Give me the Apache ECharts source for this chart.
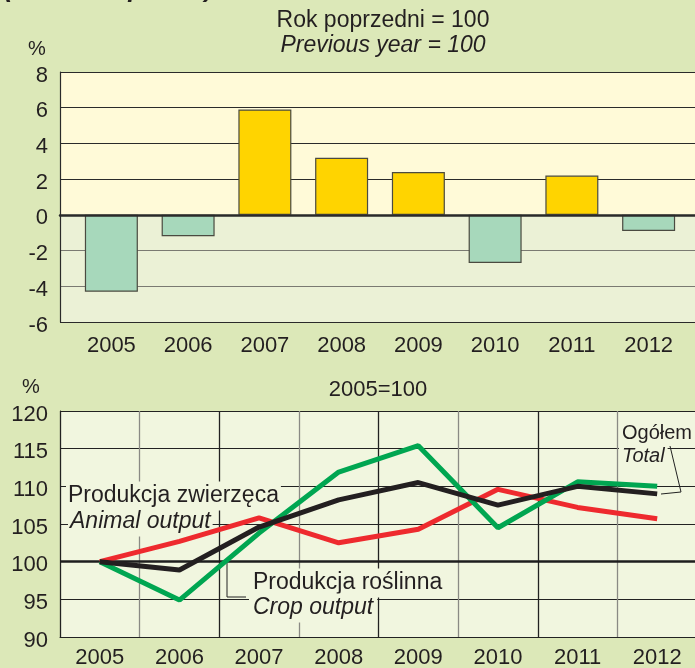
<!DOCTYPE html>
<html><head><meta charset="utf-8">
<script src="https://cdn.jsdelivr.net/npm/echarts@6/dist/echarts.min.js"></script>
<style>html,body{margin:0;padding:0;background:#dce8b8;}#c{width:695px;height:668px;}</style>
</head><body><div id="c"></div>
<script>
// ---- data ----
const years = ['2005','2006','2007','2008','2009','2010','2011','2012'];
const yoyChange = [-4.3, -1.2, 5.9, 3.2, 2.4, -2.7, 2.2, -0.9];      // previous year = 100, change in %
const totalIndex = [100, 98.9, 104.6, 108.2, 110.5, 107.5, 110.0, 109.0]; // Ogółem / Total
const animalIndex = [100, 102.7, 105.8, 102.5, 104.3, 109.6, 107.2, 105.7]; // Produkcja zwierzęca
const cropIndex = [100, 94.9, 103.8, 111.9, 115.4, 104.5, 110.6, 110.0];  // Produkcja roślinna
const baseValue = 100;

const FONT = '"Liberation Sans", Arial, Helvetica, sans-serif';
const TXT = '#231f20';
const PLOT_BG = '#f1f6df';

const chart = echarts.init(document.getElementById('c'), null, {renderer: 'canvas'});

function txt(x, y, text, opts) {
  return {
    type: 'text', x: x, y: y, z: 1,
    style: Object.assign({text: text, fill: TXT, fontFamily: FONT, fontSize: 22,
      align: 'left', verticalAlign: 'middle'}, opts || {})
  };
}

const yLabel = {fontSize: 22, color: TXT, fontFamily: FONT, margin: 12,
  verticalAlign: 'top', lineHeight: 7};

const option = {
  backgroundColor: '#dce8b8',
  animation: false,
  grid: [
    {left: 60, top: 72, width: 640, height: 250, outerBoundsMode: 'none', containLabel: false},
    {left: 73, top: 72, width: 614, height: 250, outerBoundsMode: 'none', containLabel: false},
    {left: 60, top: 411, width: 637, height: 226, show: true, backgroundColor: PLOT_BG, borderWidth: 0,
      outerBoundsMode: 'none', containLabel: false}
  ],
  xAxis: [
    {gridIndex: 0, type: 'value', min: 0, max: 1, z: 3,
      axisLine: {show: true, onZero: true, lineStyle: {color: '#2a2a2a', width: 2.5}},
      axisLabel: {show: false}, axisTick: {show: false}, splitLine: {show: false}},
    {gridIndex: 1, type: 'category', data: years, position: 'bottom',
      axisLine: {show: false, onZero: false}, axisTick: {show: false},
      axisLabel: {fontSize: 22, color: TXT, fontFamily: FONT, margin: 13},
      splitLine: {show: false}},
    {gridIndex: 2, type: 'category', data: years, boundaryGap: true,
      axisLine: {show: true, onZero: false, lineStyle: {color: '#222', width: 1}},
      axisTick: {show: false},
      axisLabel: {fontSize: 22, color: TXT, fontFamily: FONT, margin: 10},
      splitLine: {show: true, interval: 0, lineStyle: {color: ['#222', '#8a8a84'], width: 1.3}}}
  ],
  yAxis: [
    {gridIndex: 0, type: 'value', min: -6, max: 8, interval: 2, z: 1,
      axisLine: {show: true, lineStyle: {color: '#2a2a2a', width: 1.2}}, axisTick: {show: false},
      axisLabel: yLabel,
      splitLine: {show: true, lineStyle: {width: 1.2, color: ['#2a2a2a', '#7a7a72', '#7a7a72', '#2a2a2a', '#2a2a2a', '#2a2a2a', '#2a2a2a', '#2a2a2a']}}},
    {gridIndex: 1, type: 'value', min: -6, max: 8, interval: 2, show: false},
    {gridIndex: 2, type: 'value', min: 90, max: 120, interval: 5,
      axisLine: {show: true, lineStyle: {color: '#222', width: 1}}, axisTick: {show: false},
      axisLabel: yLabel,
      splitLine: {show: true, lineStyle: {color: '#222', width: 1}}}
  ],
  series: [
    {type: 'line', xAxisIndex: 0, yAxisIndex: 0, data: [], silent: true,
      markArea: {silent: true, z: 0,
        data: [
          [{yAxis: 0, itemStyle: {color: '#fffad8'}}, {yAxis: 8}],
          [{yAxis: -6, itemStyle: {color: '#ebf1d6'}}, {yAxis: 0}]
        ]}},
    {type: 'bar', xAxisIndex: 1, yAxisIndex: 1, z: 2, barWidth: 53,
      data: yoyChange.map(v => ({value: v, itemStyle: {color: v >= 0 ? '#ffd400' : '#a7d8bb'}})),
      itemStyle: {borderColor: '#4a4a40', borderWidth: 1.2}},
    {type: 'line', name: 'Produkcja zwierzęca', xAxisIndex: 2, yAxisIndex: 2, data: animalIndex, z: 2,
      symbol: 'none', lineStyle: {color: '#ee2a2e', width: 5},
      markLine: {silent: true, symbol: 'none', z: 1, label: {show: false},
        lineStyle: {color: '#1e1e1e', width: 2.5, type: 'solid'}, data: [{yAxis: baseValue}]}},
    {type: 'line', name: 'Produkcja roślinna', xAxisIndex: 2, yAxisIndex: 2, data: cropIndex, z: 3,
      symbol: 'none', lineStyle: {color: '#00a651', width: 5}},
    {type: 'line', name: 'Ogółem', xAxisIndex: 2, yAxisIndex: 2, data: totalIndex, z: 4,
      symbol: 'none', lineStyle: {color: '#231f20', width: 5}}
  ],
  graphic: [
    txt(4, -10, '(constant prices)', {fontSize: 26, fontWeight: 'bold', fontStyle: 'italic'}),
    txt(383, 21, 'Rok poprzedni = 100', {align: 'center', fontSize: 23}),
    txt(383, 46, 'Previous year = 100', {align: 'center', fontStyle: 'italic', fontSize: 23}),
    txt(37, 49, '%', {align: 'center', fontSize: 20}),
    txt(31, 387, '%', {align: 'center', fontSize: 20}),
    txt(378, 390, '2005=100', {align: 'center'}),
    txt(66, 496, 'Produkcja zwierzęca', {fontSize: 23, backgroundColor: PLOT_BG, padding: [3, 2, 3, 2]}),
    txt(68, 522, 'Animal output', {fontSize: 23, fontStyle: 'italic', backgroundColor: PLOT_BG, padding: [3, 2, 3, 2]}),
    txt(249, 583, 'Produkcja roślinna', {fontSize: 23, backgroundColor: PLOT_BG, padding: [3, 4, 3, 4]}),
    txt(249, 608, 'Crop output', {fontSize: 23, fontStyle: 'italic', backgroundColor: PLOT_BG, padding: [3, 4, 3, 4]}),
    txt(619, 433, 'Ogółem', {fontSize: 20, backgroundColor: PLOT_BG, padding: [2, 3, 2, 3]}),
    txt(619, 456, 'Total', {fontSize: 20, fontStyle: 'italic', backgroundColor: PLOT_BG, padding: [2, 3, 2, 3]}),
    {type: 'polyline', z: 1, shape: {points: [[227, 563], [227, 597], [246, 597]]},
      style: {stroke: '#222', lineWidth: 1, fill: null}},
    {type: 'polyline', z: 5, shape: {points: [[670, 446], [681, 492], [661, 494]]},
      style: {stroke: '#222', lineWidth: 1, fill: null}}
  ]
};
chart.setOption(option);
</script>
</body></html>
